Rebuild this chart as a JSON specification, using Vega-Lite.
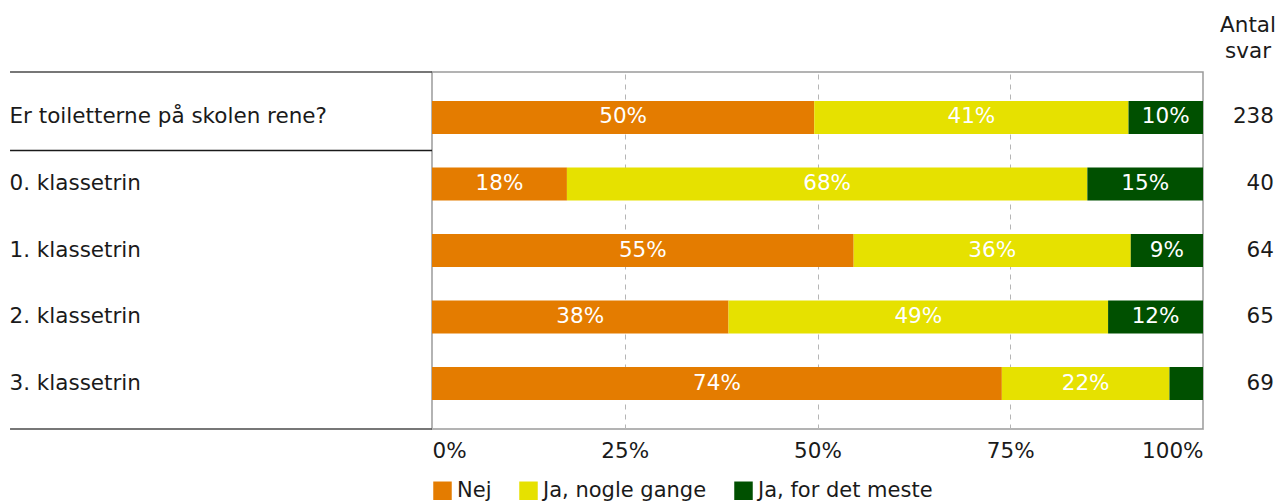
{
  "$schema": "https://vega.github.io/schema/vega-lite/v6.json",
  "width": 771,
  "height": 357,
  "padding": {"left": 9, "top": 14, "right": 0, "bottom": 0},
  "background": "white",
  "config": {
    "font": "DejaVu Sans",
    "view": {"stroke": "#9a9a9a", "strokeWidth": 1.5}
  },
  "title": {
    "text": ["Antal", "svar"],
    "anchor": "end",
    "frame": "group",
    "align": "center",
    "dx": 45,
    "fontSize": 21.5,
    "fontWeight": "normal",
    "lineHeight": 26,
    "color": "#1a1a1a",
    "offset": 9
  },
  "datasets": {
    "bars": [
      {"q": "Er toiletterne på skolen rene?", "svar": "Nej", "k": 1, "pct": 49.58, "label": "50%"},
      {"q": "Er toiletterne på skolen rene?", "svar": "Ja, nogle gange", "k": 2, "pct": 40.76, "label": "41%"},
      {"q": "Er toiletterne på skolen rene?", "svar": "Ja, for det meste", "k": 3, "pct": 9.66, "label": "10%"},
      {"q": "0. klassetrin", "svar": "Nej", "k": 1, "pct": 17.5, "label": "18%"},
      {"q": "0. klassetrin", "svar": "Ja, nogle gange", "k": 2, "pct": 67.5, "label": "68%"},
      {"q": "0. klassetrin", "svar": "Ja, for det meste", "k": 3, "pct": 15.0, "label": "15%"},
      {"q": "1. klassetrin", "svar": "Nej", "k": 1, "pct": 54.69, "label": "55%"},
      {"q": "1. klassetrin", "svar": "Ja, nogle gange", "k": 2, "pct": 35.94, "label": "36%"},
      {"q": "1. klassetrin", "svar": "Ja, for det meste", "k": 3, "pct": 9.37, "label": "9%"},
      {"q": "2. klassetrin", "svar": "Nej", "k": 1, "pct": 38.46, "label": "38%"},
      {"q": "2. klassetrin", "svar": "Ja, nogle gange", "k": 2, "pct": 49.23, "label": "49%"},
      {"q": "2. klassetrin", "svar": "Ja, for det meste", "k": 3, "pct": 12.31, "label": "12%"},
      {"q": "3. klassetrin", "svar": "Nej", "k": 1, "pct": 73.91, "label": "74%"},
      {"q": "3. klassetrin", "svar": "Ja, nogle gange", "k": 2, "pct": 21.74, "label": "22%"},
      {"q": "3. klassetrin", "svar": "Ja, for det meste", "k": 3, "pct": 4.35, "label": ""}
    ],
    "counts": [
      {"q": "Er toiletterne på skolen rene?", "n": 238},
      {"q": "0. klassetrin", "n": 40},
      {"q": "1. klassetrin", "n": 64},
      {"q": "2. klassetrin", "n": 65},
      {"q": "3. klassetrin", "n": 69}
    ]
  },
  "encoding": {
    "y": {
      "field": "q",
      "type": "nominal",
      "sort": null,
      "scale": {"paddingInner": 0.504, "paddingOuter": 0.436},
      "axis": {
        "title": null,
        "domain": false,
        "grid": false,
        "ticks": false,
        "labelAlign": "left",
        "labelPadding": 423,
        "labelLimit": 1000,
        "labelFontSize": 21.5,
        "labelColor": "#1a1a1a"
      }
    }
  },
  "layer": [
    {
      "data": {"name": "bars"},
      "mark": {"type": "bar"},
      "encoding": {
        "x": {
          "field": "pct",
          "type": "quantitative",
          "stack": "zero",
          "scale": {"domain": [0, 100], "nice": false},
          "axis": {
            "title": null,
            "values": [0, 25, 50, 75, 100],
            "labelExpr": "datum.value + '%'",
            "labelFontSize": 21.5,
            "labelColor": "#1a1a1a",
            "labelPadding": 11,
            "ticks": false,
            "domain": false,
            "grid": true,
            "gridColor": "#b5b5b5",
            "gridDash": [5, 5],
            "gridWidth": 1
          }
        },
        "color": {
          "field": "svar",
          "type": "nominal",
          "scale": {
            "domain": ["Nej", "Ja, nogle gange", "Ja, for det meste"],
            "range": ["#e47c00", "#e6e100", "#005000"]
          },
          "legend": {
            "title": null,
            "orient": "bottom",
            "direction": "horizontal",
            "symbolType": "square",
            "symbolSize": 342,
            "symbolStrokeWidth": 0,
            "symbolOpacity": 1,
            "labelFontSize": 21,
            "labelColor": "#1a1a1a",
            "labelOffset": 4,
            "labelLimit": 1000,
            "columnPadding": 26,
            "offset": 18
          }
        },
        "order": {"field": "k", "type": "quantitative"}
      }
    },
    {
      "data": {"name": "bars"},
      "mark": {"type": "text", "color": "white", "fontSize": 21.5, "baseline": "middle", "align": "center"},
      "encoding": {
        "x": {"field": "pct", "type": "quantitative", "stack": "zero", "bandPosition": 0.5},
        "text": {"field": "label"},
        "detail": {"field": "svar"},
        "order": {"field": "k", "type": "quantitative"}
      }
    },
    {
      "data": {"name": "counts"},
      "mark": {"type": "text", "fontSize": 21.5, "baseline": "middle", "align": "right", "color": "#1a1a1a", "clip": false},
      "encoding": {
        "x": {"datum": 109.2, "type": "quantitative"},
        "text": {"field": "n"}
      }
    },
    {
      "data": {"name": "counts"},
      "transform": [{"filter": "datum.q === 'Er toiletterne på skolen rene?'"}],
      "mark": {"type": "rule", "color": "#4a4a4a", "strokeWidth": 1.5, "clip": false},
      "encoding": {
        "y": {"field": "q", "type": "nominal", "sort": null, "bandPosition": -0.879},
        "x": {"datum": -54.73, "type": "quantitative"},
        "x2": {"datum": 0}
      }
    },
    {
      "data": {"name": "counts"},
      "transform": [{"filter": "datum.q === 'Er toiletterne på skolen rene?'"}],
      "mark": {"type": "rule", "color": "#1a1a1a", "strokeWidth": 1.5, "clip": false},
      "encoding": {
        "y": {"field": "q", "type": "nominal", "sort": null, "bandPosition": 1.5},
        "x": {"datum": -54.73, "type": "quantitative"},
        "x2": {"datum": 0}
      }
    },
    {
      "data": {"name": "counts"},
      "transform": [{"filter": "datum.q === '3. klassetrin'"}],
      "mark": {"type": "rule", "color": "#4a4a4a", "strokeWidth": 1.5, "clip": false},
      "encoding": {
        "y": {"field": "q", "type": "nominal", "sort": null, "bandPosition": 1.879},
        "x": {"datum": -54.73, "type": "quantitative"},
        "x2": {"datum": 0}
      }
    }
  ]
}
